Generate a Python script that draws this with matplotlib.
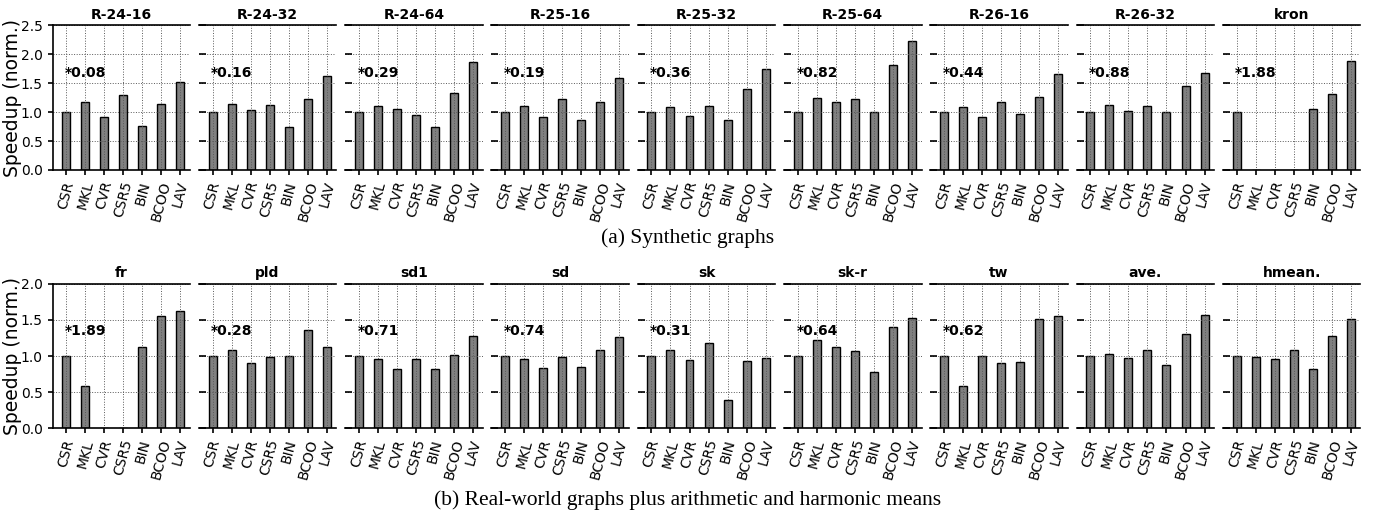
import matplotlib
matplotlib.use("Agg")
import matplotlib.pyplot as plt
import numpy as np

# kernels (x categories)
kernels = ["CSR", "MKL", "CVR", "CSR5", "BIN", "BCOO", "LAV"]

# synthetic graphs
syn_names = ["R-24-16", "R-24-32", "R-24-64", "R-25-16", "R-25-32",
             "R-25-64", "R-26-16", "R-26-32", "kron"]
syn_notes = ["*0.08", "*0.16", "*0.29", "*0.19", "*0.36",
             "*0.82", "*0.44", "*0.88", "*1.88"]
r24_16 = [1.00, 1.17, 0.92, 1.30, 0.76, 1.15, 1.52]
r24_32 = [1.00, 1.14, 1.03, 1.12, 0.75, 1.23, 1.62]
r24_64 = [1.00, 1.10, 1.05, 0.95, 0.74, 1.33, 1.87]
r25_16 = [1.00, 1.11, 0.91, 1.22, 0.87, 1.18, 1.59]
r25_32 = [1.00, 1.09, 0.94, 1.10, 0.86, 1.41, 1.75]
r25_64 = [1.00, 1.25, 1.17, 1.23, 1.01, 1.81, 2.24]
r26_16 = [1.00, 1.09, 0.92, 1.17, 0.97, 1.27, 1.66]
r26_32 = [1.00, 1.12, 1.02, 1.10, 1.01, 1.45, 1.68]
kron = [1.00, 0.0, 0.0, 0.0, 1.05, 1.31, 1.89]
syn_vals = [r24_16, r24_32, r24_64, r25_16, r25_32, r25_64, r26_16, r26_32, kron]

# real-world graphs + means
real_names = ["fr", "pld", "sd1", "sd", "sk", "sk-r", "tw", "ave.", "hmean."]
real_notes = ["*1.89", "*0.28", "*0.71", "*0.74", "*0.31", "*0.64", "*0.62", "", ""]
fr = [1.00, 0.58, 0.0, 0.0, 1.12, 1.56, 1.62]
pld = [1.00, 1.08, 0.90, 0.98, 1.00, 1.36, 1.12]
sd1 = [1.00, 0.96, 0.82, 0.96, 0.82, 1.01, 1.28]
sd = [1.00, 0.96, 0.84, 0.98, 0.85, 1.08, 1.26]
sk = [1.00, 1.09, 0.94, 1.18, 0.39, 0.93, 0.97]
sk_r = [1.00, 1.22, 1.13, 1.07, 0.78, 1.40, 1.52]
tw = [1.00, 0.59, 1.00, 0.91, 0.92, 1.51, 1.56]
ave = [1.00, 1.03, 0.97, 1.09, 0.87, 1.31, 1.57]
hmean = [1.00, 0.98, 0.96, 1.08, 0.82, 1.28, 1.51]
real_vals = [fr, pld, sd1, sd, sk, sk_r, tw, ave, hmean]

W, H = 1375, 514
fig = plt.figure(figsize=(W / 100, H / 100), dpi=100)

left0 = 52.5 / W
step = 146.3 / W
pw = 137.5 / W
ph = 144.5 / H


def draw_row(names, notes, vals, bottom, ymax):
    x = np.arange(len(kernels))
    for i, (name, note, v) in enumerate(zip(names, notes, vals)):
        ax = fig.add_axes([left0 + i * step, bottom, pw, ph])
        ax.bar(x, v, width=0.42, color="0.5", edgecolor="black", linewidth=1.0)
        ax.set_xlim(-0.72, 6.5)
        ax.set_ylim(0, ymax)
        ax.set_yticks(np.arange(0, ymax + 0.01, 0.5))
        ax.set_xticks(x)
        ax.set_xticklabels(kernels, rotation=75, fontsize=10)
        ax.grid(True, linestyle=":", color="0.35", linewidth=0.7)
        ax.spines["right"].set_visible(False)
        for s in ["top", "bottom", "left"]:
            ax.spines[s].set_linewidth(1.2)
        ax.tick_params(axis="y", labelsize=10, width=1.2)
        ax.tick_params(axis="x", width=1.2)
        if i == 0:
            ax.set_ylabel("Speedup (norm.)", fontsize=13.5)
            ax.yaxis.set_label_coords(-0.225, 0.5)
        else:
            ax.spines["left"].set_visible(False)
            ax.tick_params(axis="y", labelleft=False, direction="in", length=5)
        ax.set_title(name, fontsize=10, fontweight="bold", pad=5)
        if note:
            ax.text(0.09, 0.67, note, transform=ax.transAxes, fontsize=10,
                    fontweight="bold", ha="left", va="center")


draw_row(syn_names, syn_notes, syn_vals, 1 - 170 / H, 2.5)
draw_row(real_names, real_notes, real_vals, 1 - 428.3 / H, 2.0)

fig.text(0.5, 1 - 238 / H, "(a) Synthetic graphs", ha="center", va="center",
         fontsize=15.5, family="Liberation Serif")
fig.text(0.5, 1 - 500 / H, "(b) Real-world graphs plus arithmetic and harmonic means",
         ha="center", va="center", fontsize=15.5, family="Liberation Serif")

fig.savefig("out.png", dpi=100)
